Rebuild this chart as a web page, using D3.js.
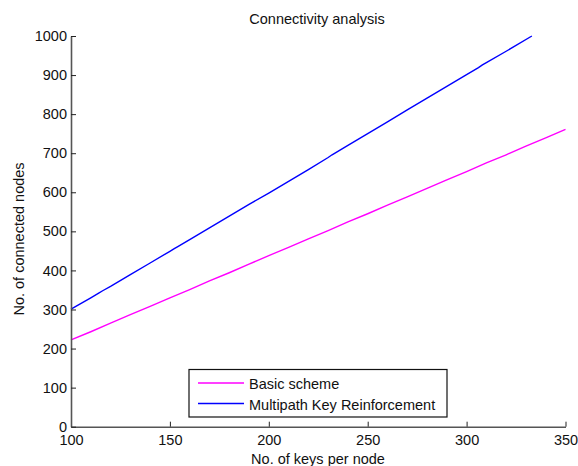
<!DOCTYPE html>
<html><head><meta charset="utf-8">
<script src="https://cdn.jsdelivr.net/npm/d3@7"></script>
<style>body{margin:0;background:#fff;}svg{display:block;font-family:"Liberation Sans",Arial,sans-serif;}</style>
</head><body><svg id="c" width="578" height="466"></svg>
<script>
const basicX = [100,110,120,130,140,150,160,170,180,190,200,210,220,230,240,250,260,270,280,290,300,310,320,330,340,350];
const basicY = [222,243,265,287,308,330,351,373,394,416,438,459,481,502,524,545,567,588,610,632,653,675,696,718,739,761];
const multiX = [100,110,114,116,120,130,140,150,152,154,160,170,180,190,192,200,210,220,230,232,240,250,260,270,280,290,300,306,308,310,320,333];
const multiY = [301,330,342,348,359,389,419,449,455,461,479,509,539,569,575,598,628,658,689,696,720,750,780,811,841,871,901,919,926,932,961,1000];
const xTicks = [100,150,200,250,300,350];
const yTicks = [0,100,200,300,400,500,600,700,800,900,1000];
const seriesNames = ["Basic scheme","Multipath Key Reinforcement"];
const seriesColors = ["#ff00ff","#0000ff"];

const FS = 14.5;
const svg = d3.select("#c");
const x = d3.scaleLinear().domain([100,350]).range([71,565.5]);
const y = d3.scaleLinear().domain([0,1000]).range([426.7,36]);

const line = d3.line().x(d=>x(d[0])).y(d=>y(d[1]));
const series = [d3.zip(basicX,basicY), d3.zip(multiX,multiY)];
series.forEach((s,i)=>{
  svg.append("path").datum(s).attr("d",line).attr("fill","none")
    .attr("stroke",seriesColors[i]).attr("stroke-width",1.4);
});

const xAxis = svg.append("g").attr("transform",`translate(0,${y(0)})`)
  .call(d3.axisBottom(x).tickValues(xTicks).tickFormat(d3.format("d")).tickSizeInner(-5).tickSizeOuter(0).tickPadding(8));
const yAxis = svg.append("g").attr("transform",`translate(${x(100)},0)`)
  .call(d3.axisLeft(y).tickValues(yTicks).tickFormat(d3.format("d")).tickSizeInner(-5).tickSizeOuter(0).tickPadding(4));
[xAxis,yAxis].forEach(a=>{
  a.select(".domain").attr("stroke","#555").attr("stroke-width",1.6);
  a.selectAll(".tick line").attr("stroke","#222");
  a.selectAll("text").attr("font-size",FS).attr("fill","#111").attr("font-family","Liberation Sans, Arial, sans-serif");
});

svg.append("text").attr("x",317).attr("y",24).attr("text-anchor","middle")
  .attr("font-size",FS).attr("fill","#111").text("Connectivity analysis");
svg.append("text").attr("x",318).attr("y",464).attr("text-anchor","middle")
  .attr("font-size",FS).attr("fill","#111").text("No. of keys per node");
svg.append("text").attr("transform","translate(24,239) rotate(-90)").attr("text-anchor","middle")
  .attr("font-size",FS).attr("fill","#111").text("No. of connected nodes");

const lg = svg.append("g");
lg.append("rect").attr("x",189).attr("y",369.5).attr("width",258).attr("height",47.5)
  .attr("fill","#fff").attr("stroke","#111").attr("stroke-width",1.2);
seriesNames.forEach((n,i)=>{
  const yy = 383 + i*20.5;
  lg.append("line").attr("x1",198).attr("x2",244).attr("y1",yy).attr("y2",yy)
    .attr("stroke",seriesColors[i]).attr("stroke-width",1.4);
  lg.append("text").attr("x",249).attr("y",yy+6).attr("font-size",FS).attr("fill","#111").text(n);
});
</script></body></html>
